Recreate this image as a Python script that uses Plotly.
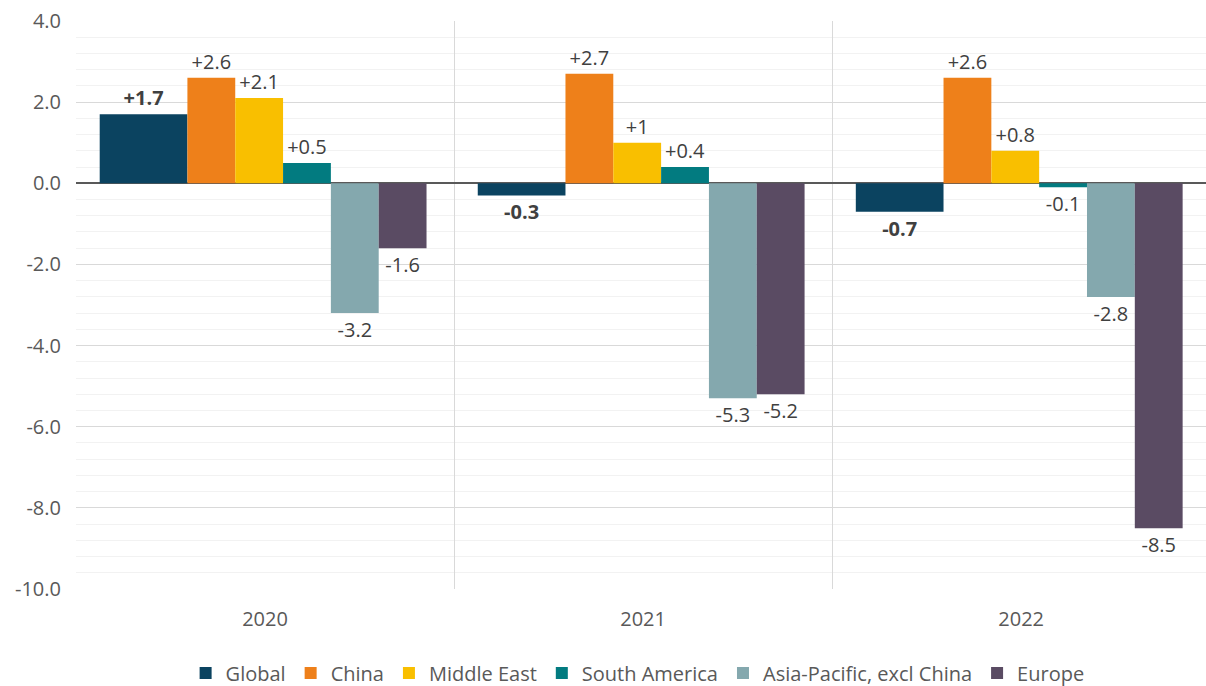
import plotly.graph_objects as go

years = ["2020", "2021", "2022"]
series_names = ["Global", "China", "Middle East", "South America", "Asia-Pacific, excl China", "Europe"]
global_vals = [1.7, -0.3, -0.7]
china_vals = [2.6, 2.7, 2.6]
middle_east_vals = [2.1, 1.0, 0.8]
south_america_vals = [0.5, 0.4, -0.1]
asia_pacific_vals = [-3.2, -5.3, -2.8]
europe_vals = [-1.6, -5.2, -8.5]
y_ticks = [4.0, 2.0, 0.0, -2.0, -4.0, -6.0, -8.0, -10.0]

colors = ["#0b4360", "#ee801a", "#f9bf00", "#027b80", "#84a8ae", "#5a4b63"]
all_vals = [global_vals, china_vals, middle_east_vals, south_america_vals, asia_pacific_vals, europe_vals]

FONT = "Open Sans"
start = -0.4373
widths = [0.232] + [0.1265] * 5

fig = go.Figure()
pos = start
for i, (name, vals) in enumerate(zip(series_names, all_vals)):
    if i == 0:
        texts = [f"<b>{v:+g}</b>" for v in vals]
    else:
        texts = [f"{v:+g}" for v in vals]
    fig.add_trace(go.Bar(
        x=years, y=vals, name=name,
        marker=dict(color=colors[i], line=dict(width=0)),
        offset=pos, width=widths[i],
        text=texts, textposition="outside", constraintext="none",
        textfont=dict(family=FONT, size=20, color="#404040"),
        cliponaxis=False,
    ))
    pos += widths[i]

fig.update_layout(
    width=1206, height=686,
    margin=dict(l=76, r=0, t=21, b=97, autoexpand=False),
    plot_bgcolor="white", paper_bgcolor="white",
    barmode="overlay",
    font=dict(family=FONT, size=20, color="#595959"),
    showlegend=True,
    legend=dict(orientation="h", x=0.497, xanchor="center", y=-0.148, yanchor="middle",
                font=dict(family=FONT, size=20, color="#595959"),
                itemwidth=30, itemclick=False, tracegroupgap=0),
    xaxis=dict(
        type="category", range=[-0.5, 2.489], automargin=False,
        tickson="boundaries", showgrid=True, gridcolor="#d9d9d9", gridwidth=1,
        ticks="", showline=False, zeroline=False,
        tickfont=dict(family=FONT, size=20, color="#595959"),
        ticklabelstandoff=16,
    ),
    yaxis=dict(
        range=[-10, 4], tickvals=y_ticks, ticktext=[f"{v:.1f}" for v in y_ticks],
        automargin=False,
        showgrid=True, gridcolor="#d9d9d9", gridwidth=1,
        minor=dict(dtick=0.4, tick0=0, showgrid=True, gridcolor="#f2f2f2", gridwidth=1),
        zeroline=True, zerolinecolor="#595959", zerolinewidth=1.5,
        showline=False, ticks="",
        tickfont=dict(family=FONT, size=20, color="#595959"),
        ticklabelstandoff=14,
    ),
)

fig.write_html(
    "out.html",
    config={"displayModeBar": False},
    post_script="document.body.style.margin='0';document.body.style.overflow='hidden';",
)
